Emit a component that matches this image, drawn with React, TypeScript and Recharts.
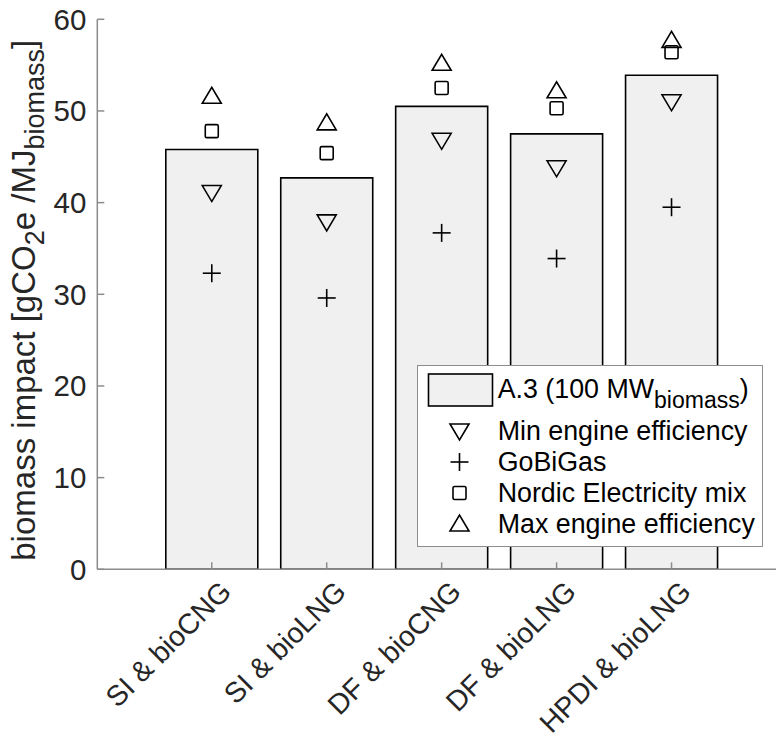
import React from "react";
import { Bar, ComposedChart, Legend, Scatter, XAxis, YAxis } from "recharts";

const categories = ["SI & bioCNG", "SI & bioLNG", "DF & bioCNG", "DF & bioLNG", "HPDI & bioLNG"];
const baseCase = [45.8, 42.7, 50.5, 47.5, 53.9];
const minEngine = [41.1, 37.9, 46.8, 43.8, 51.0];
const goBiGas = [32.3, 29.6, 36.7, 33.9, 39.5];
const nordicMix = [47.8, 45.4, 52.5, 50.3, 56.4];
const maxEngine = [51.6, 48.7, 55.2, 52.2, 57.7];
const yTicks = [0, 10, 20, 30, 40, 50, 60];

const data = categories.map((name, i) => ({
    name,
    base: baseCase[i],
    min: minEngine[i],
    gobigas: goBiGas[i],
    nordic: nordicMix[i],
    max: maxEngine[i],
}));

const FONT = '"Liberation Sans", Arial, Helvetica, sans-serif';
const AXIS = "#8c8c8c";
const TEXT = "#262626";

type Mark = "down" | "plus" | "square" | "up";

const marker = (kind: Mark, cx: number, cy: number) => {
    const s = { fill: "none", stroke: "#000", strokeWidth: 1.6 };
    if (kind === "down")
        return <polygon points={`${cx - 9.5},${cy - 7} ${cx + 9.5},${cy - 7} ${cx},${cy + 9}`} {...s} />;
    if (kind === "up")
        return <polygon points={`${cx - 9.5},${cy + 7} ${cx + 9.5},${cy + 7} ${cx},${cy - 9}`} {...s} />;
    if (kind === "square") return <rect x={cx - 6.5} y={cy - 6.5} width={13} height={13} rx={1.5} {...s} />;
    return (
        <g {...s}>
            <line x1={cx - 9} x2={cx + 9} y1={cy} y2={cy} />
            <line x1={cx} x2={cx} y1={cy - 9} y2={cy + 9} />
        </g>
    );
};

const series: { key: string; name: string; mark: Mark }[] = [
    { key: "min", name: "Min engine efficiency", mark: "down" },
    { key: "gobigas", name: "GoBiGas", mark: "plus" },
    { key: "nordic", name: "Nordic Electricity mix", mark: "square" },
    { key: "max", name: "Max engine efficiency", mark: "up" },
];

const YTick = (props: any) => {
    const { x, y, payload } = props;
    return (
        <g>
            <line x1={x + 11} x2={x + 18} y1={y} y2={y} stroke={AXIS} strokeWidth={1.5} />
            <text x={x} y={y} textAnchor="end" dominantBaseline="central" fontFamily={FONT} fontSize={29.5} fill={TEXT}>
                {payload.value}
            </text>
        </g>
    );
};

const XTick = (props: any) => {
    const { x, y, payload } = props;
    const tx = x + 14;
    const ty = y + 17;
    return (
        <g>
            <line x1={x} x2={x} y1={y} y2={y - 7} stroke={AXIS} strokeWidth={1.5} />
            <text
                x={tx}
                y={ty}
                textAnchor="end"
                dominantBaseline="central"
                transform={`rotate(-45, ${tx}, ${ty})`}
                fontFamily={FONT}
                fontSize={28.5}
                fill={TEXT}
            >
                {payload.value}
            </text>
        </g>
    );
};

const TopTick = (props: any) => {
    const { x, y } = props;
    return <line x1={x} x2={x} y1={y} y2={y + 7} stroke={AXIS} strokeWidth={1.5} />;
};

const YLabel = (props: any) => {
    const vb = props.viewBox;
    const cy = vb.y + vb.height / 2 + 6;
    const cx = 35;
    return (
        <text
            x={cx}
            y={cy}
            textAnchor="middle"
            transform={`rotate(-90, ${cx}, ${cy})`}
            fontFamily={FONT}
            fontSize={33}
            fill={TEXT}
        >
            biomass impact [gCO
            <tspan fontSize={27} dy={9}>2</tspan>
            <tspan dy={-9}>e /MJ</tspan>
            <tspan fontSize={27} dy={9}>biomass</tspan>
            <tspan dy={-9}>]</tspan>
        </text>
    );
};

const LegendBox = () => {
    const rowY = [66, 97, 128, 159];
    return (
        <div
            style={{
                position: "relative",
                width: 346,
                height: 182,
                boxSizing: "border-box",
                border: `1.5px solid ${AXIS}`,
                background: "#fff",
                fontFamily: FONT,
                fontSize: 26.8,
                color: "#000",
            }}
        >
            <svg width={346} height={182} style={{ position: "absolute", left: -1.5, top: -1.5 }}>
                <rect x={12.5} y={9} width={64} height={32} fill="#f0f0f0" stroke="#000" strokeWidth={1.6} />
                {series.map((s, i) => (
                    <g key={s.key}>{marker(s.mark, 43.5, rowY[i])}</g>
                ))}
            </svg>
            <div style={{ position: "absolute", left: 80, top: 8, lineHeight: "30px", whiteSpace: "nowrap" }}>
                A.3 (100 MW<sub style={{ fontSize: 23, verticalAlign: -10, lineHeight: 0 }}>biomass</sub>)
            </div>
            {series.map((s, i) => (
                <div
                    key={s.key}
                    style={{ position: "absolute", left: 80, top: rowY[i] - 16.5, lineHeight: "30px", whiteSpace: "nowrap" }}
                >
                    {s.name}
                </div>
            ))}
        </div>
    );
};

export default function App() {
    return (
        <div style={{ position: "fixed", left: 0, top: 0, width: 776, height: 740, overflow: "hidden", background: "#fff" }}>
            <ComposedChart
                width={808}
                height={740}
                data={data}
                margin={{ top: 19.3, right: 22, bottom: 30.7, left: 37.3 }}
            >
                <XAxis
                    dataKey="name"
                    interval={0}
                    height={140}
                    padding={{ left: 57, right: 57 }}
                    tickSize={0}
                    tickMargin={0}
                    tick={<XTick />}
                    axisLine={{ stroke: AXIS, strokeWidth: 1.5 }}
                    tickLine={false}
                />
                <XAxis
                    xAxisId="top"
                    orientation="top"
                    dataKey="name"
                    interval={0}
                    height={0}
                    padding={{ left: 57, right: 57 }}
                    tickSize={0}
                    tickMargin={0}
                    tick={<TopTick />}
                    axisLine={{ stroke: AXIS, strokeWidth: 1.5 }}
                    tickLine={false}
                />
                <YAxis
                    domain={[0, 60]}
                    ticks={yTicks}
                    width={60}
                    tickSize={0}
                    tickMargin={11}
                    tick={<YTick />}
                    axisLine={{ stroke: AXIS, strokeWidth: 1.5 }}
                    tickLine={false}
                    label={(p: any) => <YLabel {...p} />}
                />
                <Bar
                    dataKey="base"
                    name="A.3 (100 MWbiomass)"
                    fill="#f0f0f0"
                    stroke="#000"
                    strokeWidth={1.6}
                    barCategoryGap="10%"
                    isAnimationActive={false}
                />
                {series.map((s) => (
                    <Scatter
                        key={s.key}
                        dataKey={s.key}
                        name={s.name}
                        isAnimationActive={false}
                        shape={(p: any) => marker(s.mark, p.cx, p.cy)}
                    />
                ))}
                <Legend
                    layout="horizontal"
                    verticalAlign="middle"
                    align="center"
                    wrapperStyle={{ left: 416.7, top: 365, width: 346, height: 182 }}
                    content={() => <LegendBox />}
                />
            </ComposedChart>
        </div>
    );
}
